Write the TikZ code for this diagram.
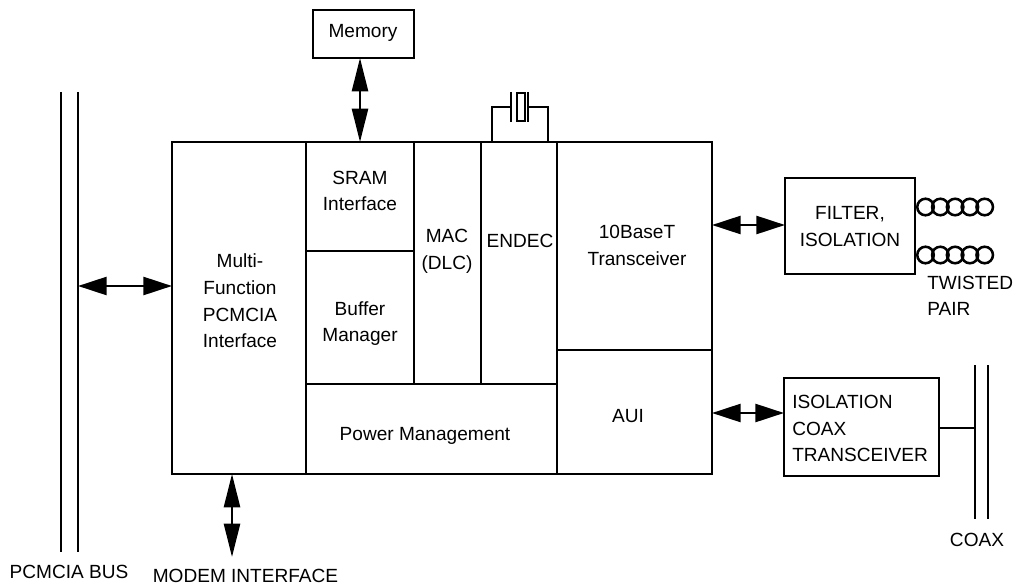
\documentclass[tikz,border=0pt]{standalone}
\usepackage{fontspec}
\setmainfont{Liberation Sans}
\usetikzlibrary{arrows.meta}
\newcommand{\pxbox}[6][]{\node[blockbox,#1,minimum width=#4*0.75pt-#2*0.75pt,minimum height=#5*0.75pt-#3*0.75pt] (#6) at ({(#2+#4)/2},{(#3+#5)/2}) {};}
\tikzset{
  x=0.75pt,y=-0.75pt,
  blockbox/.style={draw=black,line width=1.9pt,inner sep=0pt,outer sep=0pt},
  wire/.style={draw=black,line width=1.9pt},
  thinwire/.style={draw=black,line width=1.7pt},
  dblh/.style={draw=black,line width=1.9pt,{Triangle[length=21.5pt,width=13.5pt]}-{Triangle[length=21.5pt,width=13.5pt]}},
  dblv/.style={draw=black,line width=1.9pt,{Triangle[length=25pt,width=12pt]}-{Triangle[length=25pt,width=12pt]}},
  lbl/.style={font=\fontsize{14.3pt}{20pt}\selectfont,inner sep=0pt,align=center,text=black},
  lbll/.style={lbl,align=left},
  coil/.style={draw=black,line width=1.9pt,fill=none},
}
\begin{document}
\begin{tikzpicture}
\useasboundingbox (0,0) rectangle (1014,585);
% main blocks
\pxbox{172}{142}{306}{474}{multi}
\pxbox{306}{142}{414}{251}{sram}
\pxbox{306}{251}{414}{384}{buffer}
\pxbox{414}{142}{481}{384}{mac}
\pxbox{481}{142}{557}{384}{endec}
\pxbox{557}{142}{712}{350}{tenbase}
\pxbox{557}{350}{712}{474}{aui}
\pxbox{306}{384}{557}{474}{power}
\pxbox{313}{10}{414}{58}{memory}
\pxbox{785}{178}{915}{274}{filter}
\pxbox{784}{378}{939}{476}{coaxbox}
% labels
\node[lbl] at (363,33) {Memory};
\node[lbl] at (360,191) {SRAM\\Interface};
\node[lbl] at (360,323.5) {Buffer\\Manager};
\node[lbl] at (447,251.5) {MAC\\(DLC)};
\node[lbl] at (520,241) {ENDEC};
\node[lbl] at (240,301) {Multi-\\Function\\PCMCIA\\Interface};
\node[lbl] at (637,245.5) {10BaseT\\Transceiver};
\node[lbl] at (425,436) {Power Management};
\node[lbl] at (628,416) {AUI};
\node[lbl] at (850,226.5) {FILTER,\\ISOLATION};
\node[lbll,anchor=west] at (792,428.5) {ISOLATION\\COAX\\TRANSCEIVER};
\node[lbll,anchor=west] at (927,296) {TWISTED\\PAIR};
\node[lbl] at (977,540) {COAX};
\node[lbl] at (69,572) {PCMCIA BUS};
\node[lbl] at (245.5,575.5) {MODEM INTERFACE};
% buses
\coordinate (busLt) at (61,92); \coordinate (busLb) at (61,552);
\coordinate (busRt) at (78,92); \coordinate (busRb) at (78,552);
\draw[thinwire] (busLt) -- (busLb);
\draw[thinwire] (busRt) -- (busRb);
\coordinate (coaxLt) at (975,365); \coordinate (coaxLb) at (975,519);
\coordinate (coaxRt) at (988,365); \coordinate (coaxRb) at (988,519);
\draw[thinwire] (coaxLt) -- (coaxLb);
\draw[thinwire] (coaxRt) -- (coaxRb);
% arrows
\coordinate (busTap) at (78,286);
\coordinate (modemEnd) at (232,557);
\draw[dblh] (busTap) -- (multi.west |- busTap);
\draw[dblv] (modemEnd |- multi.south) -- (modemEnd);
\draw[dblv] (sram.north |- memory.south) -- (sram.north);
\coordinate (tapA) at (712,225);
\coordinate (tapB) at (712,413);
\draw[dblh] (tapA) -- (filter.west |- tapA);
\draw[dblh] (tapB) -- (coaxbox.west |- tapB);
% coax tap
\draw[wire] (coaxbox.east |- 0,428) -- (coaxLt |- 0,428);
% crystal
\coordinate (xtalA) at (492,142);
\coordinate (xtalB) at (548,142);
\draw[wire] (xtalA) |- (511,107);
\draw[wire] (xtalB) |- (528,107);
\draw[wire] (511,92) -- (511,122);
\draw[wire] (528,92) -- (528,122);
\draw[wire] (517,93) rectangle (525,121);
% twisted pair
\foreach \cx in {925.5,940.3,955.1,969.9,984.7} {
  \draw[coil] (\cx,207) circle[radius=6.2pt];
  \draw[coil] (\cx,255) circle[radius=6.2pt];
}
\end{tikzpicture}
\end{document}
